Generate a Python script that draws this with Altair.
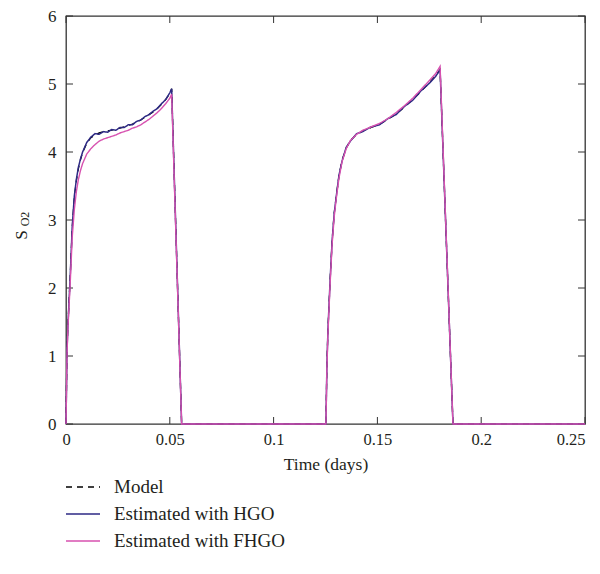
import altair as alt
import pandas as pd

# ---------------- data ----------------
time_days = [0, 0.0005, 0.001, 0.002, 0.003, 0.004, 0.005, 0.006, 0.007, 0.008,
             0.010, 0.012, 0.014, 0.016, 0.018, 0.020, 0.022, 0.024, 0.026, 0.028,
             0.030, 0.032, 0.034, 0.036, 0.038, 0.040, 0.042, 0.044, 0.046, 0.048,
             0.050, 0.0509, 0.0557,
             0.1252, 0.1257, 0.1262, 0.1272, 0.1282, 0.1292, 0.1302, 0.1315, 0.1330,
             0.1350, 0.1370, 0.1400, 0.1430, 0.1470, 0.1510, 0.1550, 0.1590, 0.1630,
             0.1670, 0.1710, 0.1750, 0.1780, 0.1802, 0.1864, 0.25]

model_vals = [0, 1.1, 1.5, 2.15, 2.88, 3.33, 3.58, 3.76, 3.89, 3.99,
              4.13, 4.21, 4.25, 4.28, 4.30, 4.31, 4.32, 4.34, 4.35, 4.37,
              4.39, 4.41, 4.44, 4.47, 4.51, 4.55, 4.59, 4.64, 4.70, 4.77,
              4.86, 4.93, 0,
              0, 0.9, 1.4, 2.1, 2.7, 3.1, 3.35, 3.65, 3.88,
              4.06, 4.17, 4.26, 4.31, 4.36, 4.41, 4.48, 4.56, 4.66,
              4.77, 4.89, 5.02, 5.12, 5.21, 0, 0]

hgo_vals = [0, 1.1, 1.5, 2.15, 2.9, 3.35, 3.6, 3.78, 3.9, 4.0,
            4.14, 4.22, 4.27, 4.26, 4.30, 4.29, 4.33, 4.32, 4.36, 4.36,
            4.40, 4.40, 4.45, 4.47, 4.52, 4.55, 4.60, 4.64, 4.71, 4.77,
            4.87, 4.93, 0,
            0, 0.9, 1.4, 2.1, 2.7, 3.1, 3.35, 3.66, 3.87,
            4.07, 4.16, 4.27, 4.30, 4.37, 4.40, 4.49, 4.55, 4.67,
            4.76, 4.90, 5.01, 5.11, 5.21, 0, 0]

fhgo_vals = [0, 1.05, 1.45, 2.05, 2.75, 3.15, 3.42, 3.6, 3.73, 3.83,
             3.97, 4.05, 4.11, 4.16, 4.19, 4.21, 4.23, 4.25, 4.28, 4.30,
             4.32, 4.35, 4.37, 4.40, 4.44, 4.48, 4.53, 4.58, 4.64, 4.71,
             4.79, 4.85, 0,
             0, 0.85, 1.35, 2.05, 2.65, 3.05, 3.32, 3.62, 3.86,
             4.05, 4.17, 4.26, 4.32, 4.37, 4.42, 4.49, 4.58, 4.68,
             4.79, 4.92, 5.05, 5.15, 5.26, 0, 0]

series_names = ["Model", "Estimated with HGO", "Estimated with FHGO"]
series_colors = ["#000000", "#2e2a85", "#d752b0"]
series_dashes = [[6, 5], [1, 0], [1, 0]]

x_ticks = [0, 0.05, 0.1, 0.15, 0.2, 0.25]
y_ticks = [0, 1, 2, 3, 4, 5, 6]

x_title = "Time (days)"
y_title_main = "S"
y_title_sub = "O2"

# ---------------- build table ----------------
rows = []
for name, vals in zip(series_names, [model_vals, hgo_vals, fhgo_vals]):
    for i, (t, v) in enumerate(zip(time_days, vals)):
        rows.append({"t": t, "v": v, "series": name, "order": i})
df = pd.DataFrame(rows)

W, H = 519, 408
FONT = "Liberation Serif"
TXT = "#231f20"
FRAME = "#333333"
TICK = 7

x_scale = alt.Scale(domain=[0, 0.25], nice=False, zero=False)
y_scale = alt.Scale(domain=[0, 6], nice=False)

x_axis = alt.Axis(values=x_ticks, format="~g", title=x_title, ticks=False,
                  domain=False, grid=False, labelPadding=7, titlePadding=8,
                  labelFlush=False, labelOverlap=False,
                  labelAlign={"expr": "datum.value >= 0.25 ? 'right' : 'center'"},
                  labelFont=FONT, labelFontSize=16.5, labelColor=TXT,
                  titleFont=FONT, titleFontSize=17.5, titleFontWeight="normal",
                  titleColor=TXT)
y_axis = alt.Axis(values=y_ticks, format="d", title=None, ticks=False,
                  domain=False, grid=False, labelPadding=10,
                  labelFlush=False, labelOverlap=False,
                  labelFont=FONT, labelFontSize=17, labelColor=TXT)

color_enc = alt.Color("series:N", scale=alt.Scale(domain=series_names, range=series_colors),
                      legend=alt.Legend(title=None))
dash_enc = alt.StrokeDash("series:N", scale=alt.Scale(domain=series_names, range=series_dashes),
                          legend=alt.Legend(title=None))


def series_layer(name, width):
    return alt.Chart(df).transform_filter(
        alt.datum.series == name
    ).mark_line(strokeWidth=width).encode(
        x=alt.X("t:Q", scale=x_scale, axis=x_axis),
        y=alt.Y("v:Q", scale=y_scale, axis=y_axis),
        color=color_enc,
        strokeDash=dash_enc,
        order=alt.Order("order:Q"),
    )


model_layer = series_layer(series_names[0], 1.3)
hgo_layer = series_layer(series_names[1], 1.5)
fhgo_layer = series_layer(series_names[2], 1.4)

xt = pd.DataFrame({"t": x_ticks})
yt = pd.DataFrame({"v": y_ticks})

bottom_ticks = alt.Chart(xt).mark_rule(color=FRAME, strokeWidth=1).encode(
    x=alt.X("t:Q", scale=x_scale, axis=x_axis), y=alt.value(H), y2=alt.value(H - TICK))
top_ticks = alt.Chart(xt).mark_rule(color=FRAME, strokeWidth=1).encode(
    x=alt.X("t:Q", scale=x_scale, axis=x_axis), y=alt.value(0), y2=alt.value(TICK))
left_ticks = alt.Chart(yt).mark_rule(color=FRAME, strokeWidth=1).encode(
    y=alt.Y("v:Q", scale=y_scale, axis=y_axis), x=alt.value(0), x2=alt.value(TICK))
right_ticks = alt.Chart(yt).mark_rule(color=FRAME, strokeWidth=1).encode(
    y=alt.Y("v:Q", scale=y_scale, axis=y_axis), x=alt.value(W - TICK), x2=alt.value(W))

title_s = alt.Chart(pd.DataFrame({"label": [y_title_main]})).mark_text(
    font=FONT, fontSize=17, color=TXT, angle=270, align="center", baseline="alphabetic"
).encode(text="label:N", x=alt.value(-39), y=alt.value(219))
title_o2 = alt.Chart(pd.DataFrame({"label": [y_title_sub]})).mark_text(
    font=FONT, fontSize=12, color=TXT, angle=270, align="center", baseline="alphabetic"
).encode(text="label:N", x=alt.value(-37.5), y=alt.value(203))

chart = alt.layer(
    bottom_ticks, top_ticks, left_ticks, right_ticks,
    model_layer, hgo_layer, fhgo_layer,
    title_s, title_o2,
).properties(
    width=W, height=H,
    autosize=alt.AutoSizeParams(type="none"),
    padding={"left": 58, "top": 8, "right": 7, "bottom": 140},
).configure_view(
    stroke=FRAME, strokeWidth=1.3
).configure_axis(
    labelFont=FONT, labelColor=TXT,
    titleFont=FONT, titleFontWeight="normal", titleColor=TXT,
).configure_legend(
    orient="none", legendX=-1, legendY=462, direction="vertical",
    symbolType="stroke", symbolSize=1156, symbolStrokeWidth=1.5,
    clipHeight=18, rowPadding=8, labelOffset=13, padding=0,
    labelFont=FONT, labelFontSize=19, labelColor=TXT, labelLimit=400,
)

chart.save("out.html", embed_options={"renderer": "svg", "actions": False})
